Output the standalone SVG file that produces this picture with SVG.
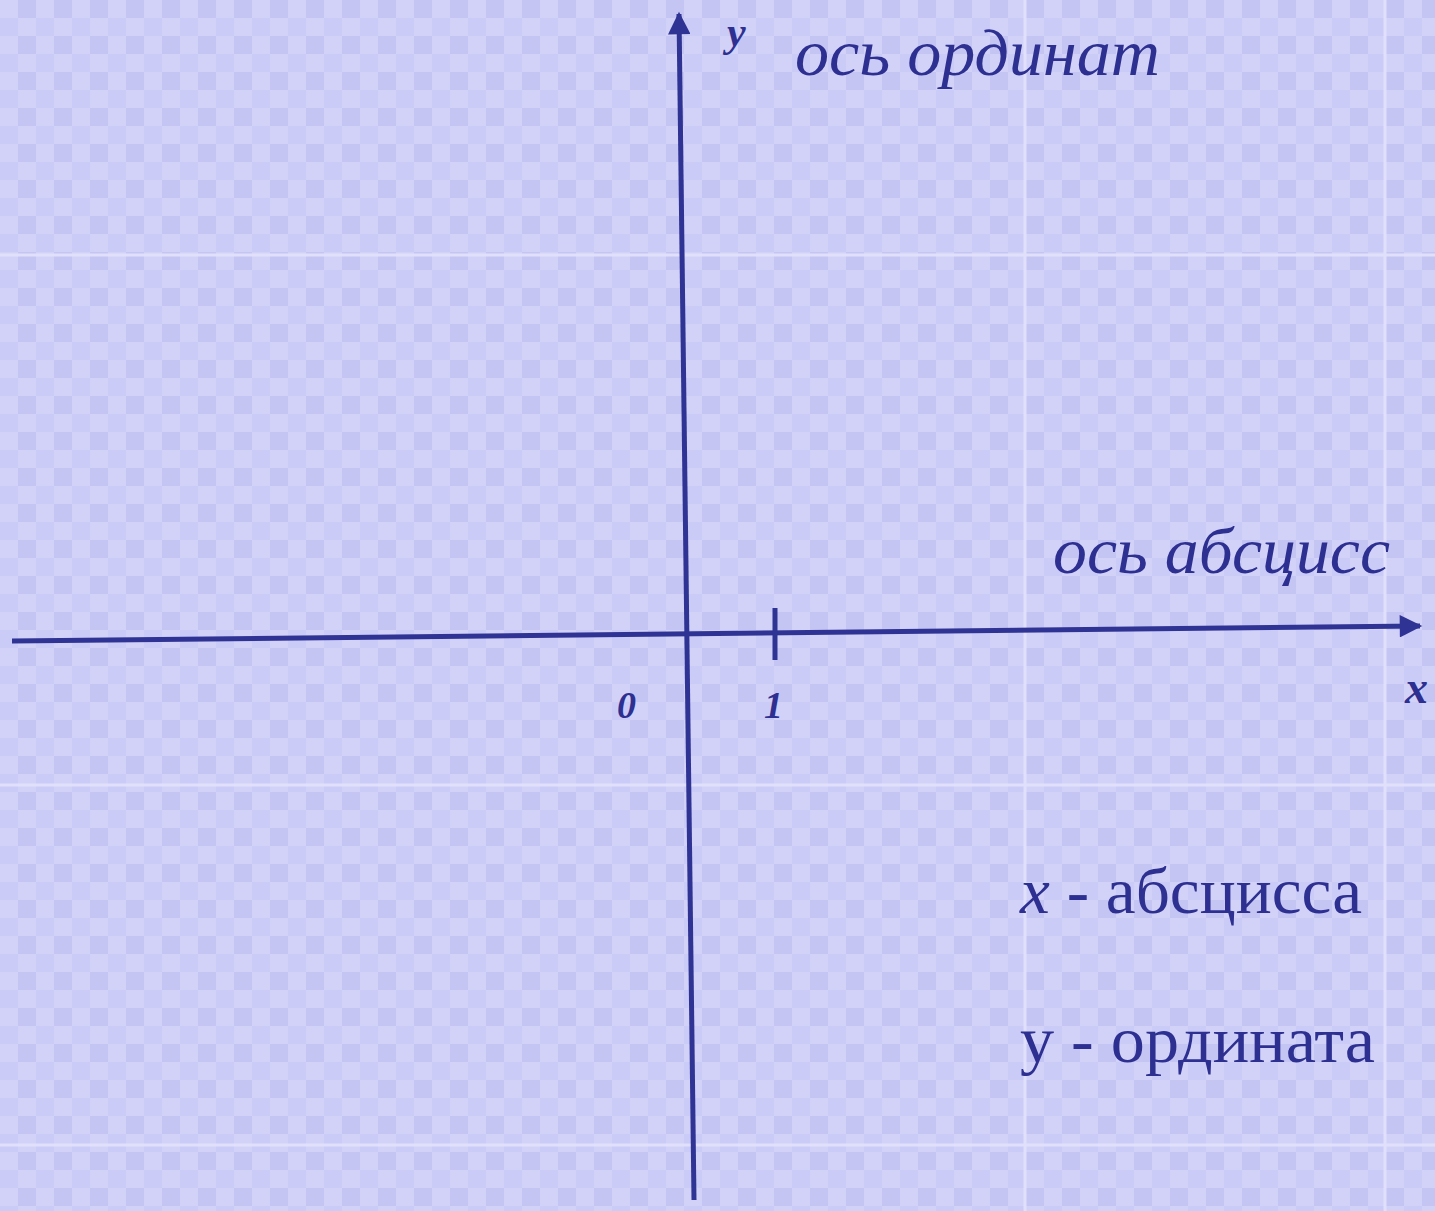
<svg xmlns="http://www.w3.org/2000/svg" width="1435" height="1211" viewBox="0 0 1435 1211">
  <defs>
    <pattern id="chk" x="0" y="0" width="36" height="36" patternUnits="userSpaceOnUse">
      <rect width="36" height="36" fill="#cbcbf7"/>
      <rect width="18" height="18" fill="#d2d2f9"/>
      <rect x="18" y="18" width="18" height="18" fill="#d2d2f9"/>
      <rect x="18" y="0" width="18" height="18" fill="#c5c5f3"/>
    </pattern>
    <marker id="arr" viewBox="0 0 10 10" refX="9" refY="5" markerWidth="5" markerHeight="4.5" orient="auto" markerUnits="strokeWidth">
      <path d="M0,0 L10,5 L0,10 Z" fill="#2f3393"/>
    </marker>
    <style>
      .ax { stroke:#2f3393; stroke-width:5; fill:none; stroke-linecap:butt; }
      .it { font-family:"Liberation Serif","DejaVu Serif",serif; font-style:italic; fill:#2d3090; }
      .rg { font-family:"Liberation Serif","DejaVu Serif",serif; fill:#2d3090; }
      .grid { stroke:#e0e0fb; stroke-width:3; }
    </style>
  </defs>
  <rect width="1435" height="1211" fill="url(#chk)"/>
  <g id="grid">
    <line class="grid" x1="0" y1="255" x2="1435" y2="255"/>
    <line class="grid" x1="0" y1="785" x2="1435" y2="785"/>
    <line class="grid" x1="0" y1="1145" x2="1435" y2="1145"/>
    <line class="grid" x1="1025" y1="0" x2="1025" y2="1211"/>
    <line class="grid" x1="1385" y1="0" x2="1385" y2="1211"/>
  </g>
  <g id="connectors">
    <line id="x-axis" class="ax" x1="12" y1="641" x2="1420" y2="626" marker-end="url(#arr)"/>
    <line id="y-axis" class="ax" x1="694" y1="1200" x2="679" y2="14" marker-end="url(#arr)"/>
    <line id="tick" class="ax" x1="775" y1="608" x2="775" y2="660"/>
  </g>
  <g id="label-y"><text class="it" x="727" y="46" font-size="42" font-weight="bold">y</text></g>
  <g id="label-ordinate-axis"><text class="it" x="795" y="75" font-size="65" textLength="365" lengthAdjust="spacingAndGlyphs">ось ординат</text></g>
  <g id="label-abscissa-axis"><text class="it" x="1053" y="573" font-size="65" textLength="337" lengthAdjust="spacingAndGlyphs">ось абсцисс</text></g>
  <g id="label-x"><text class="it" x="1405" y="703" font-size="46" font-weight="bold">x</text></g>
  <g id="label-0"><text class="it" x="617" y="718" font-size="38" font-weight="bold">0</text></g>
  <g id="label-1"><text class="it" x="764" y="718" font-size="38" font-weight="bold">1</text></g>
  <g id="legend-x"><text class="rg" x="1020" y="913" font-size="66" textLength="342" lengthAdjust="spacingAndGlyphs"><tspan font-style="italic">x</tspan> - абсцисса</text></g>
  <g id="legend-y"><text class="rg" x="1020" y="1062" font-size="66" textLength="355" lengthAdjust="spacingAndGlyphs">y - ордината</text></g>
</svg>
